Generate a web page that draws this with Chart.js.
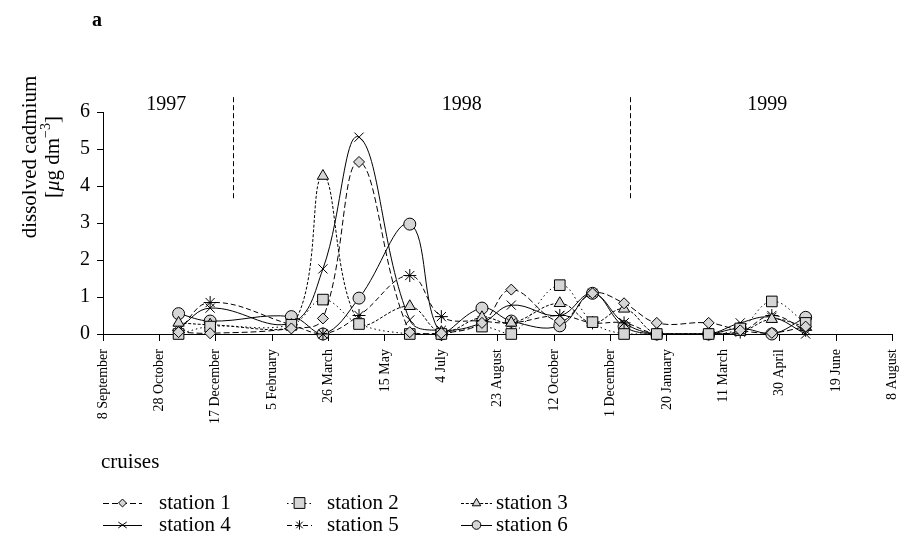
<!DOCTYPE html>
<html><head><meta charset="utf-8">
<script src="https://cdn.jsdelivr.net/npm/chart.js@4.4.1/dist/chart.umd.min.js"></script>
<style>html,body{margin:0;padding:0;background:#fff}</style>
</head><body>
<canvas id="c" width="901" height="535" style="display:block;width:901px;height:535px"></canvas>
<script>
// cruise dates, expressed as days after 8 September 1997
const cruiseDays = [67, 95, 167, 195, 227, 272, 300, 336, 362, 405, 434, 462, 491, 537, 565, 593, 623];
const tickLabels = ['8 September','28 October','17 December','5 February','26 March','15 May','4 July',
  '23 August','12 October','1 December','20 January','11 March','30 April','19 June','8 August'];
const yearLabels = ['1997','1998','1999'];
const yearDays = [56, 318, 589];
const separatorDays = [115, 467];
const seriesNames = ['station 1','station 2','station 3','station 4','station 5','station 6'];

// dissolved cadmium, µg dm-3
const station1 = [0.05, 0.02, 0.15, 0.42, 4.65, 0.05, 0.02, 0.30, 1.20, 0.35, 1.10, 0.83, 0.30, 0.30, 0.10, 0.03, 0.20];
const station2 = [0.00, 0.20, 0.25, 0.93, 0.27, 0.00, 0.00, 0.20, 0.00, 1.32, 0.32, 0.00, 0.00, 0.00, 0.15, 0.88, 0.30];
const station3 = [0.30, 0.25, 0.20, 4.27, 0.30, 0.75, 0.05, 0.45, 0.30, 0.83, 0.30, 0.68, 0.00, 0.00, 0.05, 0.40, 0.20];
const station4 = [0.15, 0.70, 0.30, 1.76, 5.32, 0.38, 0.10, 0.30, 0.78, 0.50, 1.10, 0.30, 0.00, 0.00, 0.30, 0.45, 0.00];
const station5 = [0.10, 0.85, 0.25, 0.00, 0.50, 1.58, 0.47, 0.35, 0.30, 0.50, 0.30, 0.30, 0.00, 0.00, 0.05, 0.50, 0.10];
const station6 = [0.55, 0.35, 0.47, 0.00, 0.97, 2.97, 0.00, 0.70, 0.35, 0.22, 1.10, 0.20, 0.00, 0.00, 0.15, 0.00, 0.45];
const seriesValues = [station1, station2, station3, station4, station5, station6];

const FILL = '#d6d6d6';
const FONT = '"Liberation Serif", "Times New Roman", serif';
const styles = [
  {point:'rectRot', r:5.5, dash:[6,3]},
  {point:'rect', r:7.5, dash:[1.5,3]},
  {point:'triangle', r:6.5, dash:[3,1.8]},
  {point:'crossRot', r:6.5, dash:[]},
  {point:'star', r:6.5, dash:[5,3]},
  {point:'circle', r:6, dash:[]}
];

const datasets = seriesValues.map((vals, i) => ({
  label: seriesNames[i],
  data: vals.map((v, j) => ({x: cruiseDays[j], y: v})),
  borderColor: '#000',
  borderWidth: 1,
  borderDash: styles[i].dash,
  tension: 0.4,
  fill: false,
  clip: false,
  pointStyle: styles[i].point,
  pointRadius: styles[i].r,
  pointBackgroundColor: FILL,
  pointBorderColor: '#000',
  pointBorderWidth: 1
}));

function drawMarker(ctx, style, x, y, r) {
  ctx.save();
  ctx.setLineDash([]);
  ctx.fillStyle = FILL; ctx.strokeStyle = '#000'; ctx.lineWidth = 1;
  ctx.beginPath();
  if (style === 'rectRot') {
    ctx.moveTo(x - r, y); ctx.lineTo(x, y - r); ctx.lineTo(x + r, y); ctx.lineTo(x, y + r); ctx.closePath();
    ctx.fill(); ctx.stroke();
  } else if (style === 'rect') {
    ctx.rect(x - r, y - r, 2 * r, 2 * r); ctx.fill(); ctx.stroke();
  } else if (style === 'triangle') {
    ctx.moveTo(x, y - r); ctx.lineTo(x + r * 0.9, y + r * 0.6); ctx.lineTo(x - r * 0.9, y + r * 0.6); ctx.closePath();
    ctx.fill(); ctx.stroke();
  } else if (style === 'circle') {
    ctx.arc(x, y, r, 0, Math.PI * 2); ctx.fill(); ctx.stroke();
  } else if (style === 'crossRot') {
    const a = r * 0.9;
    ctx.moveTo(x - a, y - a * 0.7); ctx.lineTo(x + a, y + a * 0.7);
    ctx.moveTo(x + a, y - a * 0.7); ctx.lineTo(x - a, y + a * 0.7); ctx.stroke();
  } else if (style === 'star') {
    const a = r * 0.7;
    ctx.moveTo(x - a, y - a); ctx.lineTo(x + a, y + a);
    ctx.moveTo(x + a, y - a); ctx.lineTo(x - a, y + a);
    ctx.moveTo(x, y - r); ctx.lineTo(x, y + r); ctx.stroke();
  }
  ctx.restore();
}

const decor = {
  id: 'decor',
  afterDraw(chart) {
    const ctx = chart.ctx;
    const xs = chart.scales.x, ys = chart.scales.y;
    ctx.save();
    ctx.fillStyle = '#000';
    // panel letter
    ctx.font = 'bold 20px ' + FONT;
    ctx.textAlign = 'left'; ctx.textBaseline = 'middle';
    ctx.fillText('a', 92, 21);
    // year labels
    ctx.font = '20px ' + FONT;
    ctx.textAlign = 'center';
    yearLabels.forEach((t, i) => ctx.fillText(t, xs.getPixelForValue(yearDays[i]), ys.getPixelForValue(6.2)));
    // separators
    ctx.strokeStyle = '#000'; ctx.lineWidth = 1; ctx.setLineDash([5, 3]);
    separatorDays.forEach(d => {
      const x = Math.round(xs.getPixelForValue(d)) + 0.5;
      ctx.beginPath(); ctx.moveTo(x, ys.getPixelForValue(6.4)); ctx.lineTo(x, ys.getPixelForValue(3.65)); ctx.stroke();
    });
    ctx.setLineDash([]);
    // y axis title
    ctx.save();
    ctx.translate(30, 157); ctx.rotate(-Math.PI / 2);
    ctx.textAlign = 'center'; ctx.textBaseline = 'middle';
    ctx.font = '21px ' + FONT;
    ctx.fillText('dissolved cadmium', 0, 0);
    ctx.restore();
    ctx.save();
    ctx.translate(53, 157); ctx.rotate(-Math.PI / 2);
    ctx.textBaseline = 'middle'; ctx.textAlign = 'left';
    const parts = [
      {t:'[', f:'21px ' + FONT, dy:0},
      {t:'\u03BC', f:'italic 21px ' + FONT, dy:0},
      {t:'g dm', f:'21px ' + FONT, dy:0},
      {t:'\u22123', f:'14px ' + FONT, dy:-7},
      {t:']', f:'21px ' + FONT, dy:0}
    ];
    let w = 0;
    parts.forEach(p => { ctx.font = p.f; p.w = ctx.measureText(p.t).width; w += p.w; });
    let px = -w / 2;
    parts.forEach(p => { ctx.font = p.f; ctx.fillText(p.t, px, p.dy); px += p.w; });
    ctx.restore();
    // cruises caption
    ctx.font = '21px ' + FONT;
    ctx.textAlign = 'left'; ctx.textBaseline = 'middle';
    ctx.fillText('cruises', 101, 462);
    // legend
    const rows = [503, 525];
    const cols = [{x0:103, x1:142, tx:159}, {x0:287, x1:312, tx:327}, {x0:461, x1:492, tx:496}];
    datasets.forEach((ds, i) => {
      const row = Math.floor(i / 3), col = i % 3;
      const y = rows[row], c = cols[col];
      ctx.save();
      ctx.strokeStyle = '#000'; ctx.lineWidth = 1; ctx.setLineDash(styles[i].dash);
      ctx.beginPath(); ctx.moveTo(c.x0, y + 0.5); ctx.lineTo(c.x1, y + 0.5); ctx.stroke();
      ctx.restore();
      drawMarker(ctx, styles[i].point, (c.x0 + c.x1) / 2, y, styles[i].r * 0.72);
      ctx.fillStyle = '#000';
      ctx.font = '21px ' + FONT;
      ctx.textAlign = 'left'; ctx.textBaseline = 'middle';
      ctx.fillText(seriesNames[i], c.tx, y);
    });
    ctx.restore();
  }
};

new Chart(document.getElementById('c'), {
  type: 'line',
  data: { datasets },
  options: {
    responsive: false,
    animation: false,
    devicePixelRatio: 1,
    layout: { padding: { top: 112, right: 6, left: 0, bottom: 0 } },
    plugins: { legend: { display: false }, tooltip: { enabled: false } },
    scales: {
      x: {
        type: 'linear', min: 0, max: 700,
        afterFit(s) { s.height = 201; s.paddingRight = 0; s.paddingLeft = 0; },
        ticks: {
          stepSize: 50, autoSkip: false, maxRotation: 90, minRotation: 90,
          color: '#000', padding: 8,
          font: { family: FONT, size: 14 },
          callback: (v, i) => tickLabels[i]
        },
        grid: { drawOnChartArea: false, tickLength: 7, color: '#000' },
        border: { color: '#000', width: 1 }
      },
      y: {
        min: 0, max: 6,
        afterFit(s) { s.width = 103; s.paddingTop = 0; s.paddingBottom = 0; },
        ticks: { stepSize: 1, color: '#000', padding: 7, font: { family: FONT, size: 20 } },
        grid: { drawOnChartArea: false, tickLength: 6, color: '#000' },
        border: { color: '#000', width: 1 }
      }
    }
  },
  plugins: [decor]
});
</script>
</body></html>
